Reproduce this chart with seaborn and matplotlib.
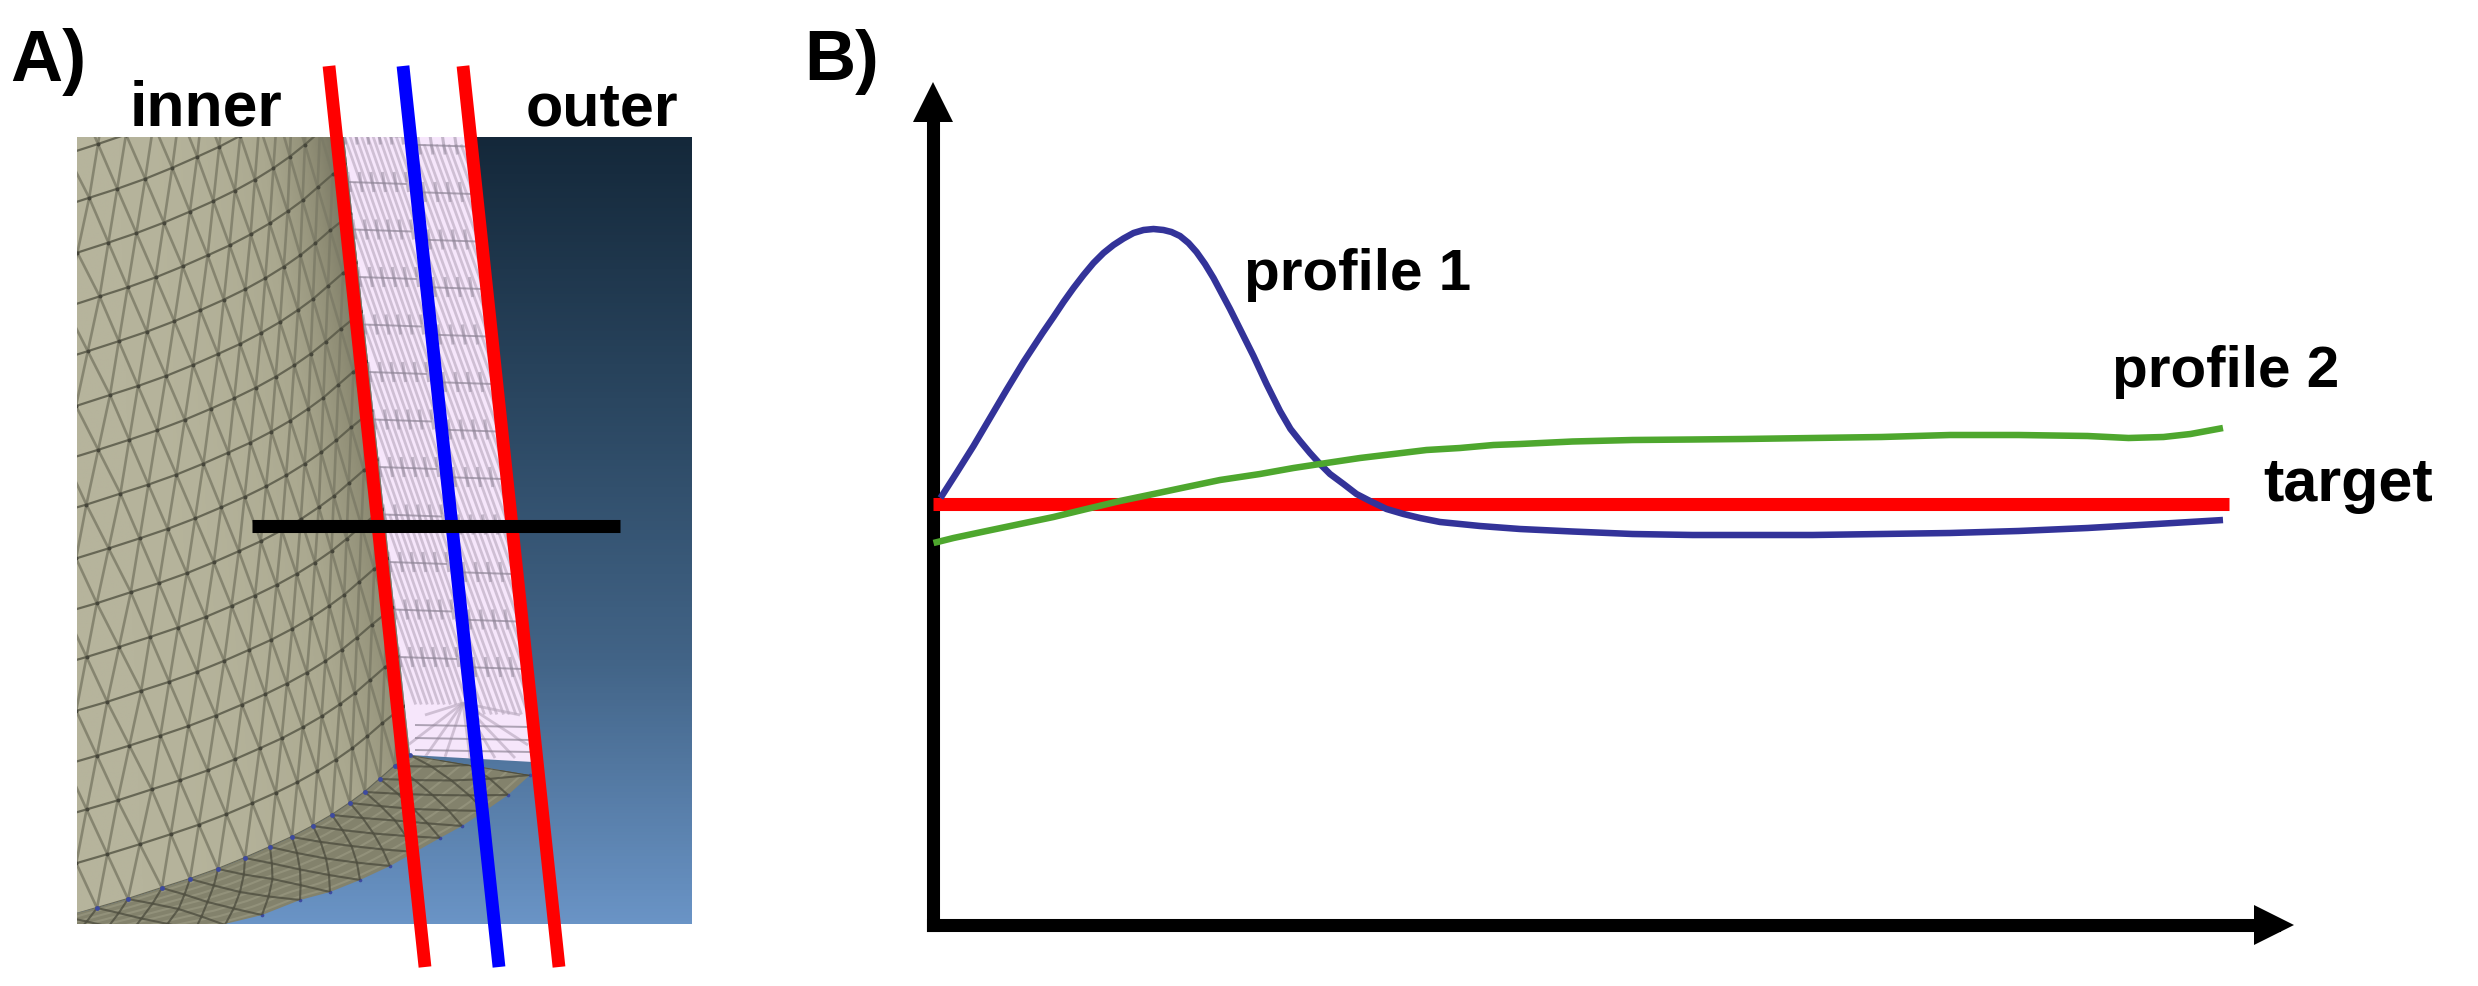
import numpy as np
import matplotlib
matplotlib.use("Agg")
import matplotlib.pyplot as plt
import seaborn as sns
from matplotlib.collections import LineCollection
from matplotlib.colors import LinearSegmentedColormap
from matplotlib.patches import Polygon

# panel B curves, x and y in axis units
PROFILE1_X = [8, 24, 41, 57.5, 74, 91, 110, 121, 131, 141, 151, 161, 171, 181, 191, 201, 211,
              221, 231, 239, 247.5, 256, 264, 272.5, 281, 289, 297.5, 304, 311, 321, 334, 347.5,
              358, 367.5, 377.5, 387.5, 397.5, 411, 424, 437.5, 454, 471, 487.5, 507.5, 527.5,
              547.5, 587.5, 640, 700, 760, 820, 880, 949, 1017.5, 1086, 1155, 1224, 1290.5]
PROFILE1_Y = [427, 452, 479, 507, 535, 563, 592, 608, 623, 637, 650, 662, 672, 680, 686.5, 692, 695,
              696, 695, 693, 689, 682, 673, 661, 647, 632, 616, 603, 589, 569, 541, 514,
              496, 484, 472, 461, 451, 441, 431, 424, 416, 411, 407, 403, 401,
              399, 396, 393.5, 391, 390, 390, 390, 391, 392, 394, 397, 401, 405]
PROFILE2_X = [1, 21, 54, 87.5, 121, 154, 187.5, 221, 254, 287.5, 327.5, 361, 394, 427.5, 461,
              494, 527.5, 561, 587.5, 640, 700, 760, 811, 880, 949, 1017.5, 1052, 1086, 1155,
              1196, 1231, 1258, 1290.5]
PROFILE2_Y = [382, 387, 394, 401, 408, 416, 424, 431, 438, 445, 451, 457, 462, 467, 471,
              475, 477, 480, 481, 483.5, 485, 485.5, 486, 487, 488, 490, 490, 490, 489,
              487, 488, 491, 497]
TARGET_X = [0, 1296]
TARGET_Y = [421.5, 421.5]

# panel A geometry, in image pixels
INNER_ARC_X = [66, 97, 128, 162, 190, 218, 245, 270, 292, 313, 332, 350, 365, 380, 395, 410]
INNER_ARC_Y = [917, 908, 899, 888, 879, 869, 858, 847, 837, 826, 815, 803, 792, 779, 766, 755]
OUTER_ARC_X = [85, 120, 155, 195, 225, 262, 300, 330, 360, 390, 415, 440, 462, 485, 508, 530]
OUTER_ARC_Y = [952, 945, 938, 930, 925, 915, 900, 892, 880, 866, 852, 838, 826, 811, 795, 775]
RED_LEFT_X = [329, 425]
BLUE_MID_X = [403, 499]
RED_RIGHT_X = [463, 559]
SECTION_Y = [66, 967]
CUT_X = [252, 620]
CUT_Y = [526, 526]

PANEL = (77, 692, 924, 137)

sns.set_theme(style="white")
plt.rcParams["font.family"] = ["Liberation Sans", "DejaVu Sans"]
plt.rcParams["font.weight"] = "bold"

fig = plt.figure(figsize=(24.78, 9.86), dpi=100)
ax_a = fig.add_axes([0, 0, 800 / 2478, 1])
ax_b = fig.add_axes([932.5 / 2478, 61 / 986, 1341 / 2478, 823 / 986])


def seg(ax, segments, color, lw, clip, alpha=1.0, z=3):
    lc = LineCollection(segments, colors=color, linewidths=lw, alpha=alpha, zorder=z)
    ax.add_collection(lc)
    lc.set_clip_path(clip)


# --- panel A ---
# background gradient
bg_cmap = LinearSegmentedColormap.from_list("bg", ["#14283a", "#2a4660", "#426487", "#6a94c6"])
ax_a.imshow(np.linspace(0, 1, 256).reshape(-1, 1), cmap=bg_cmap, aspect="auto",
            extent=PANEL, zorder=1)

inner = np.column_stack([INNER_ARC_X, INNER_ARC_Y]).astype(float)
outer = np.column_stack([OUTER_ARC_X, OUTER_ARC_Y]).astype(float)
tt = np.arange(len(inner), dtype=float)


def arc_pt(arc, t):
    return np.interp(t, tt, arc[:, 0]), np.interp(t, tt, arc[:, 1])


# inner wall, shaded darker towards the silhouette
wall_pts = [(77, 137), (344, 137), (410, 755)] + [tuple(p) for p in inner[:0:-1]] + [(77, 913)]
wall = Polygon(wall_pts, closed=True, fc="none", ec="none", zorder=2)
ax_a.add_patch(wall)
gx, gy = np.meshgrid(np.linspace(77, 420, 300), np.linspace(137, 924, 200))
edge = 344 + (gy - 137) * 0.106
shade = np.clip((gx - 77) / (edge - 77), 0, 1)
shade = shade ** 3 * (1 - 0.45 * (gy - 137) / 787)
wall_cmap = LinearSegmentedColormap.from_list("wall", ["#b6b49c", "#aaa88f", "#8f8d75", "#6d6c5a"])
im = ax_a.imshow(shade, cmap=wall_cmap, vmin=0, vmax=1, aspect="auto",
                 extent=(77, 420, 924, 137), zorder=2)
im.set_clip_path(wall)

row_dy = 49.3
row_dx = 5.2
rows = []
diag = []
nodes = []
for j in range(0, 18):
    off = 0.5 * (j % 2)
    t = np.arange(-1, 16) + off
    px, py = arc_pt(inner, t)
    px = px - j * row_dx
    py = py - j * row_dy
    nodes.append(np.column_stack([px, py]))
    rows.append(np.vstack([[px[1] - 70, py[1] + 22], nodes[-1][1:], [px[-1] + 20, py[-1] - 18]]))
for j in range(17):
    a = nodes[j]
    b = nodes[j + 1]
    for k in range(len(a)):
        if j % 2 == 0:
            targets = [k - 1, k]
        else:
            targets = [k, k + 1]
        for m in targets:
            if 0 <= m < len(b):
                diag.append([a[k], b[m]])
seg(ax_a, diag, "#7b7a66", 1.9, wall, alpha=0.8)
seg(ax_a, rows, "#5a5a49", 1.6, wall, alpha=0.85)
allnodes = np.vstack(nodes)
node_pts = ax_a.scatter(allnodes[:, 0], allnodes[:, 1], s=8, color="#46463a", lw=0, zorder=3)
node_pts.set_clip_path(wall)

# bottom ring of the wall
ring_pts = np.vstack([inner[1:], outer[::-1]])
ring_pts[:, 1] = np.minimum(ring_pts[:, 1], 924)
ring_pts[:, 0] = np.maximum(ring_pts[:, 0], 77)
ring_pts = np.vstack([ring_pts, [(77, 924), (77, 913)]])
ring = Polygon(ring_pts, closed=True, fc="#83826c", ec="none", zorder=2)
ax_a.add_patch(ring)
stripes = []
cross = []
fine_t = np.linspace(0, 15, 80)
for f in np.linspace(0, 1, 17):
    ix, iy = arc_pt(inner, fine_t)
    ox, oy = arc_pt(outer, fine_t)
    stripes.append(np.column_stack([ix + f * (ox - ix), iy + f * (oy - iy)]))


def ring_pt(t, f):
    a = arc_pt(inner, t)
    b = arc_pt(outer, t)
    return a[0] + f * (b[0] - a[0]), a[1] + f * (b[1] - a[1])


layers = np.linspace(0, 1, 5)
for lay in range(4):
    shift = 0.5 * (lay % 2)
    for k in np.arange(0, 16):
        p = ring_pt(k + shift, layers[lay])
        cross.append([p, ring_pt(k + shift + 0.5, layers[lay + 1])])
        cross.append([p, ring_pt(k + shift - 0.5, layers[lay + 1])])
seg(ax_a, stripes[1::2], "#a5a48d", 1.5, ring, alpha=0.45)
seg(ax_a, cross, "#4b4b3d", 1.5, ring, alpha=0.75)
ax_a.scatter(inner[1:, 0], inner[1:, 1], s=12, color="#3d4aa0", lw=0, zorder=4)
ax_a.scatter(outer[5:, 0], outer[5:, 1], s=7, color="#3d4aa0", lw=0, zorder=2.5)

# cut face
face = Polygon([(344, 137), (467, 137), (533, 762), (410, 755)], closed=True,
               fc="#f6e6fb", ec="none", zorder=2)
ax_a.add_patch(face)


def face_x(u, y):
    return (344 + (y - 137) * 0.106) + u * 123


face_rows = []
face_diag = []
face_vert = []
for half, start, u0, u1 in [(0, 182, 0.0, 0.47), (1, 192, 0.5, 1.0)]:
    ys = np.arange(start - 47.5, 700, 47.5)
    us = np.linspace(u0, u1, 6)
    for y0 in ys:
        face_rows.append([(face_x(u0, y0), y0), (face_x(u1, y0), y0 + 2)])
        for i in range(len(us)):
            xa = face_x(us[i], y0)
            face_vert.append([(xa - 1, y0 - 10), (xa + 2, y0 + 10)])
            if i < len(us) - 1:
                face_diag.append([(xa, y0), (face_x(us[i + 1], y0 + 47.5), y0 + 47.5)])
                face_diag.append([(face_x(us[i] + 0.045, y0), y0),
                                  (face_x(us[i + 1] + 0.045, y0 + 47.5), y0 + 47.5)])
apex = (463, 703)
for bx, by in [(408, 745), (425, 757), (445, 757), (470, 758), (495, 758), (515, 758),
               (528, 745), (520, 715), (425, 715)]:
    face_diag.append([apex, (bx, by)])
for y0 in (725, 738, 750):
    face_rows.append([(415, y0), (530, y0 + 2)])
seg(ax_a, face_diag, "#b5a6bb", 2.0, face, alpha=0.6)
seg(ax_a, face_vert, "#857b8e", 2.2, face, alpha=0.45)
seg(ax_a, face_rows, "#8f8597", 1.4, face, alpha=0.7)

# section lines
for xs, col in [(RED_LEFT_X, "#ff0000"), (BLUE_MID_X, "#0000ff"), (RED_RIGHT_X, "#ff0000")]:
    sns.lineplot(x=xs, y=SECTION_Y, ax=ax_a, color=col, linewidth=9.2, sort=False,
                 estimator=None, solid_capstyle="butt", zorder=5)
sns.lineplot(x=CUT_X, y=CUT_Y, ax=ax_a, color="black", linewidth=9.4, sort=False,
             estimator=None, solid_capstyle="butt", zorder=6)

ax_a.text(10, 81, "A)", fontsize=52, va="baseline", ha="left", color="black")
ax_a.text(130, 126, "inner", fontsize=45, va="baseline", ha="left", color="black")
ax_a.text(526, 126, "outer", fontsize=44, va="baseline", ha="left", color="black")
ax_a.set_xlim(0, 800)
ax_a.set_ylim(986, 0)
ax_a.axis("off")

# --- panel B ---
sns.lineplot(x=TARGET_X, y=TARGET_Y, ax=ax_b, color="#ff0000", linewidth=9.4, sort=False,
             estimator=None, solid_capstyle="butt", zorder=3, clip_on=False)
sns.lineplot(x=PROFILE1_X, y=PROFILE1_Y, ax=ax_b, color="#333399", linewidth=4.7, sort=False,
             estimator=None, solid_capstyle="butt", zorder=4, clip_on=False)
sns.lineplot(x=PROFILE2_X, y=PROFILE2_Y, ax=ax_b, color="#4ea72e", linewidth=4.7, sort=False,
             estimator=None, solid_capstyle="butt", zorder=5, clip_on=False)

ax_b.set_xlim(0, 1341)
ax_b.set_ylim(0, 823)
ax_b.set_xticks([])
ax_b.set_yticks([])
ax_b.patch.set_alpha(0)
sns.despine(ax=ax_b)
for side in ("left", "bottom"):
    ax_b.spines[side].set_linewidth(9.4)
    ax_b.spines[side].set_color("black")
    ax_b.spines[side].set_zorder(1)
ax_b.plot(1, 0, ">", color="black", ms=29, mew=0, transform=ax_b.transAxes, clip_on=False, zorder=1)
ax_b.plot(0, 1, "^", color="black", ms=29, mew=0, transform=ax_b.transAxes, clip_on=False, zorder=1)

ax_b.text(-128, 845, "B)", fontsize=51, va="baseline", ha="left", color="black")
ax_b.text(311, 635, "profile 1", fontsize=42, va="baseline", ha="left", color="black")
ax_b.text(1179, 538.5, "profile 2", fontsize=42, va="baseline", ha="left", color="black")
ax_b.text(1330.5, 424, "target", fontsize=44, va="baseline", ha="left", color="black")

fig.savefig("out.png", dpi=100)
